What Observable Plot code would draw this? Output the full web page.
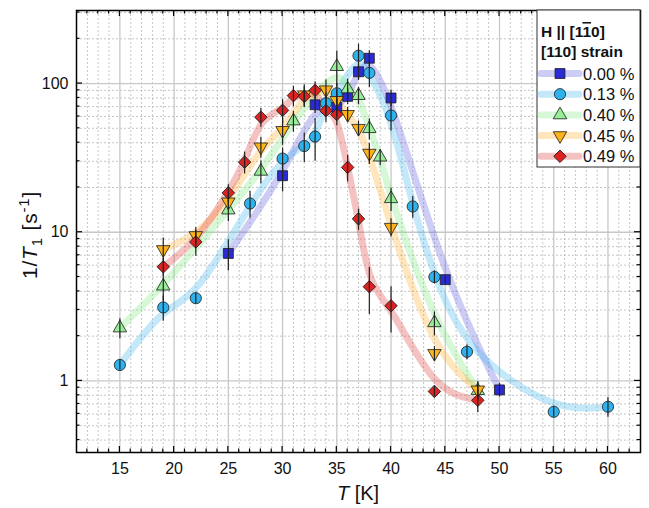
<!DOCTYPE html>
<html><head><meta charset="utf-8">
<script src="https://cdn.jsdelivr.net/npm/d3@7"></script>
<script src="https://cdn.jsdelivr.net/npm/@observablehq/plot@0.6"></script>
<style>
body{margin:0;background:#fff;}
#chart{position:relative;width:649px;height:508px;font-family:"Liberation Sans",Arial,sans-serif;}
</style></head><body><div id="chart"></div>
<script>
// ---- data ----
const seriesLabels = ["0.00 %", "0.13 %", "0.40 %", "0.45 %", "0.49 %"];

const temp000 = [25, 30, 33, 35, 36, 37, 38, 40, 45, 50];
const rate000 = [7.2, 24, 72, 69, 82, 120, 148, 80, 4.8, 0.87];
const err000  = [1.7, 5.3, 9, 9, 10, 15, 18, 10, 0.3, 0.09];

const temp013 = [15, 19, 22, 27, 30, 32, 33, 34, 35, 37, 38, 40, 42, 44, 47, 55, 60];
const rate013 = [1.28, 3.12, 3.6, 15.6, 31.3, 38, 44, 73.8, 86, 154, 118, 61, 14.9, 5.0, 1.57, 0.62, 0.67];
const err013  = [0.1, 0.6, 0.3, 3.2, 5.5, 8.5, 14, 13, 15, 30, 24, 13, 2.5, 0.5, 0.18, 0.05, 0.1];

const temp040 = [15, 19, 25, 28, 31, 35, 36, 37, 38, 39, 40, 44, 48];
const rate040 = [2.27, 4.34, 14.1, 25.7, 56, 130, 92, 83, 49.7, 32, 16.8, 2.46, 0.86];
const err040  = [0.35, 0.9, 2.3, 4.5, 9, 35, 15, 11, 8, 4, 3, 0.45, 0.11];

const temp045 = [19, 22, 25, 28, 30, 32, 34, 35, 36, 37, 38, 40, 44, 48];
const rate045 = [7.65, 9.5, 16, 37.5, 48.4, 84, 90.8, 77, 62, 50, 34, 10.8, 1.53, 0.87];
const err045  = [1.5, 1.2, 2, 6, 10, 14, 15, 13, 7, 6, 5.5, 1.5, 0.17, 0.12];

const temp049 = [19, 22, 25, 26.5, 28, 30, 31, 32, 33, 34, 35, 36, 37, 38, 40, 44, 48];
const rate049 = [5.85, 8.6, 18.4, 29.6, 59.4, 66, 83, 82, 90, 65.7, 62, 27.3, 12.3, 4.3, 3.2, 0.85, 0.74];
const err049  = [0.8, 1.7, 2.5, 5, 8.5, 12, 13, 13, 13, 11, 10, 5.5, 2, 1.5, 1.1, 0.07, 0.13];

const xMajorTicks = [15, 20, 25, 30, 35, 40, 45, 50, 55, 60];
const yMajorTicks = [1, 10, 100];

// ---- styles ----
const markerFill = ["#2b2bd6", "#2eb2ee", "#98ee98", "#ffb31a", "#dd2222"];
const curveColor = ["#6060e0", "#44b8f0", "#80e880", "#ffb030", "#e04040"];
const markerSymbol = ["square", "circle", "triangle", "triangle", "square"];
const markerRotate = [0, 0, 0, 180, 45];
const markerR = [5.6, 5.6, 5.0, 5.0, 5.0];

const temps = [temp000, temp013, temp040, temp045, temp049];
const rates = [rate000, rate013, rate040, rate045, rate049];
const errs = [err000, err013, err040, err045, err049];

const series = seriesLabels.map((s, i) =>
  temps[i].map((T, j) => ({s, T, v: rates[i][j], e: errs[i][j]})));
const allRows = series.flat();

const xMinor = d3.range(12, 64).filter(d => d % 5 !== 0);
const yMinor = [];
for (const dec of [0.1, 1, 10, 100]) for (let k = 2; k <= 9; k++) yMinor.push(+(k * dec).toFixed(3));
const yMinorIn = yMinor.filter(d => d >= 0.33 && d <= 310);

const marks = [
  Plot.gridX(xMinor, {stroke: "#b8b8b8", strokeOpacity: 1, strokeWidth: 0.8, strokeDasharray: "2,2"}),
  Plot.gridY(yMinorIn, {stroke: "#b8b8b8", strokeOpacity: 1, strokeWidth: 0.8, strokeDasharray: "2,2"}),
  Plot.gridX(xMajorTicks, {stroke: "#c8c8c8", strokeOpacity: 1, strokeWidth: 1.3}),
  Plot.gridY(yMajorTicks, {stroke: "#c8c8c8", strokeOpacity: 1, strokeWidth: 1.3}),
];
series.forEach((rows, i) => {
  marks.push(Plot.line(rows, {x: "T", y: "v", curve: "basis", stroke: curveColor[i],
    strokeOpacity: 0.32, strokeWidth: 7, strokeLinecap: "round", strokeLinejoin: "round"}));
});
series.forEach((rows, i) => {
  marks.push(Plot.dot(rows, {x: "T", y: "v", symbol: markerSymbol[i], rotate: markerRotate[i],
    r: markerR[i], fill: markerFill[i], stroke: "#1a1a1a", strokeWidth: 0.8}));
});
marks.push(Plot.ruleX(allRows, {x: "T", y1: d => d.v - d.e, y2: d => d.v + d.e, stroke: "#222", strokeWidth: 1.2}));
marks.push(Plot.frame({stroke: "#000", strokeWidth: 1.5}));
marks.push(Plot.axisX(xMajorTicks, {tickSize: 0, tickPadding: 10, fontSize: 16, label: null}));
marks.push(Plot.axisY(yMajorTicks, {tickSize: 0, tickPadding: 8, fontSize: 16, label: null, tickFormat: d => String(d)}));

const plot = Plot.plot({
  width: 649, height: 508,
  marginLeft: 76, marginTop: 10, marginRight: 9, marginBottom: 56,
  x: {domain: [11, 63]},
  y: {type: "log", domain: [0.33, 310]},
  style: {fontFamily: '"Liberation Sans", Arial, sans-serif', color: "#111", background: "transparent", overflow: "visible"},
  marks
});
document.getElementById("chart").appendChild(plot);

// ---- inside ticks on all four sides, using Plot's scales ----
const sx = plot.scale("x"), sy = plot.scale("y");
const svg = d3.select(plot);
const X0 = sx.apply(11), X1 = sx.apply(63), Y0 = sy.apply(0.33), Y1 = sy.apply(310);
const tg = svg.append("g").attr("stroke", "#000").attr("stroke-width", 1.2);
const xTickVals = d3.range(12, 63).map(d => ({d, major: d % 5 === 0}));
for (const {d, major} of xTickVals) {
  const px = sx.apply(d), L = major ? 6 : 3.5;
  tg.append("line").attr("x1", px).attr("x2", px).attr("y1", Y0).attr("y2", Y0 - L);
  tg.append("line").attr("x1", px).attr("x2", px).attr("y1", Y1).attr("y2", Y1 + L);
}
const yTickVals = yMajorTicks.map(d => ({d, major: true})).concat(yMinorIn.map(d => ({d, major: false})));
for (const {d, major} of yTickVals) {
  const py = sy.apply(d), L = major ? 6 : 3.5;
  tg.append("line").attr("y1", py).attr("y2", py).attr("x1", X0).attr("x2", X0 + L);
  tg.append("line").attr("y1", py).attr("y2", py).attr("x1", X1).attr("x2", X1 - L);
}

// ---- axis labels ----
const fam = '"Liberation Sans", Arial, sans-serif';
const xl = svg.append("text").attr("x", (X0 + X1) / 2).attr("y", 500).attr("text-anchor", "middle")
  .attr("font-size", 20).attr("font-family", fam).attr("fill", "#111");
xl.append("tspan").attr("font-style", "italic").text("T");
xl.append("tspan").text(" [K]");

const yl = svg.append("text").attr("transform", `translate(37,${(Y0 + Y1) / 2 + 4}) rotate(-90)`)
  .attr("text-anchor", "middle").attr("font-size", 21).attr("font-family", fam).attr("fill", "#111")
  .attr("letter-spacing", 0.8);
yl.append("tspan").text("1/");
yl.append("tspan").attr("font-style", "italic").text("T");
yl.append("tspan").attr("font-size", 15).attr("dy", 5).text("1");
yl.append("tspan").attr("dy", -5).text(" [s");
yl.append("tspan").attr("font-size", 15).attr("dy", -8).text("-1");
yl.append("tspan").attr("dy", 8).text("]");

// ---- legend ----
const lg = svg.append("g").attr("text-anchor", "start");
lg.append("rect").attr("x", 537).attr("y", Y1).attr("width", X1 - 537).attr("height", 157)
  .attr("fill", "#fff").attr("stroke", "#333").attr("stroke-width", 1);
const t1 = lg.append("text").attr("x", 541).attr("y", 37).attr("font-weight", "bold")
  .attr("font-size", 15.5).attr("font-family", fam).attr("fill", "#111").attr("text-anchor", "start");
t1.append("tspan").text("H || [1");
t1.append("tspan").style("text-decoration", "overline").text("1");
t1.append("tspan").text("0]");
lg.append("text").attr("x", 541).attr("y", 57).attr("font-weight", "bold").attr("text-anchor", "start")
  .attr("font-size", 15.5).attr("font-family", fam).attr("fill", "#111").text("[110] strain");
const d3sym = {square: d3.symbolSquare, circle: d3.symbolCircle, triangle: d3.symbolTriangle};
seriesLabels.forEach((lab, i) => {
  const cy = 73.5 + i * 20.7;
  lg.append("line").attr("x1", 541).attr("x2", 579).attr("y1", cy).attr("y2", cy)
    .attr("stroke", curveColor[i]).attr("stroke-opacity", 0.32).attr("stroke-width", 7).attr("stroke-linecap", "round");
  lg.append("path").attr("d", d3.symbol(d3sym[markerSymbol[i]], Math.PI * markerR[i] * markerR[i])())
    .attr("transform", `translate(560,${cy}) rotate(${markerRotate[i]})`)
    .attr("fill", markerFill[i]).attr("stroke", "#1a1a1a").attr("stroke-width", 0.8);
  lg.append("text").attr("x", 583).attr("y", cy + 6).attr("font-size", 16.5).attr("font-family", fam)
    .attr("text-anchor", "start").attr("fill", "#111").text(lab);
});
</script></body></html>
